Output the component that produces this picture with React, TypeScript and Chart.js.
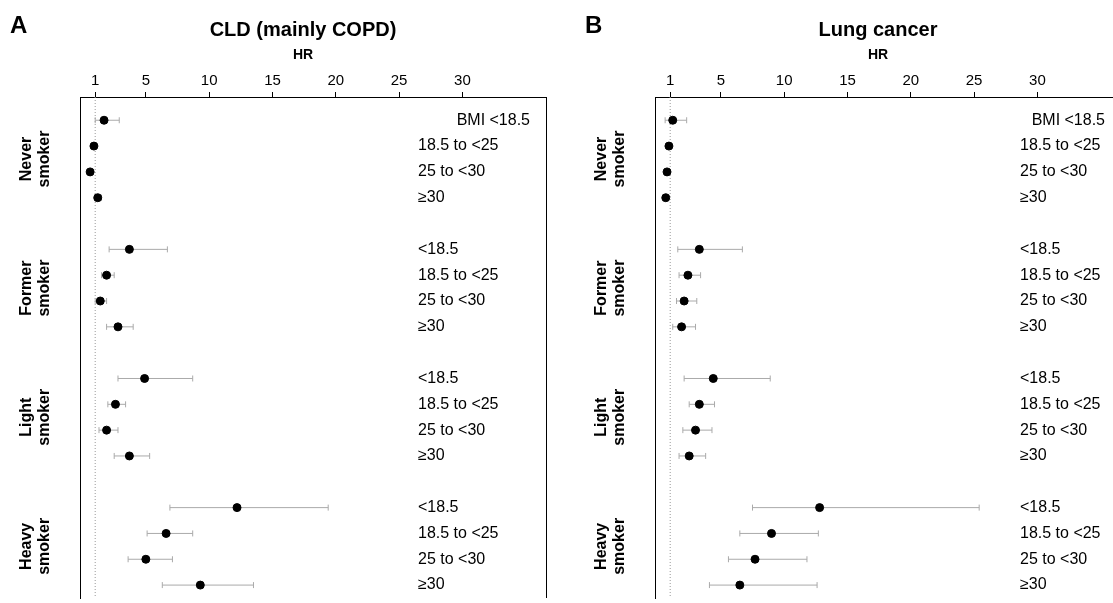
import { useEffect, useRef } from 'react';
import Chart from 'chart.js/auto';

const bmiLabels = ['BMI <18.5', '18.5 to <25', '25 to <30', '≥30'];
const groups = [['Never', 'smoker'], ['Former', 'smoker'], ['Light', 'smoker'], ['Heavy', 'smoker']];
const xTicks = [1, 5, 10, 15, 20, 25, 30];

// HR, lower CI, upper CI per row (4 groups x 4 BMI classes)
const cldHR = [1.7, 0.9, 0.6, 1.2, 3.7, 1.9, 1.4, 2.8, 4.9, 2.6, 1.9, 3.7, 12.2, 6.6, 5.0, 9.3];
const cldLo = [1.0, 0.8, 0.5, 1.0, 2.1, 1.5, 1.0, 1.9, 2.8, 2.0, 1.3, 2.5, 6.9, 5.1, 3.6, 6.3];
const cldHi = [2.9, 1.0, 0.7, 1.5, 6.7, 2.5, 1.9, 4.0, 8.7, 3.4, 2.8, 5.3, 19.4, 8.7, 7.1, 13.5];

const lungHR = [1.2, 0.9, 0.75, 0.65, 3.3, 2.4, 2.1, 1.9, 4.4, 3.3, 3.0, 2.5, 12.8, 9.0, 7.7, 6.5];
const lungLo = [0.6, 0.8, 0.7, 0.6, 1.6, 1.7, 1.5, 1.2, 2.1, 2.5, 2.0, 1.7, 7.5, 6.5, 5.6, 4.1];
const lungHi = [2.3, 1.0, 0.8, 0.7, 6.7, 3.4, 3.1, 3.0, 8.9, 4.5, 4.3, 3.8, 25.4, 12.7, 11.8, 12.6];

const rowY = (i: number) => Math.floor(i / 4) * 5 + (i % 4);
const FONT = 'Arial, "Liberation Sans", sans-serif';

type PanelProps = { letter: string; title: string; hr: number[]; lo: number[]; hi: number[]; labelX: number; firstRight: number };

const Panel = ({ letter, title, hr, lo, hi, labelX, firstRight }: PanelProps) => {
  const canvasRef = useRef<HTMLCanvasElement | null>(null);

  useEffect(() => {
    if (!canvasRef.current) return;
    const overlay = {
      id: 'overlay',
      beforeDatasetsDraw(chart: any) {
        const { ctx, chartArea: a, scales: { x, y } } = chart;
        ctx.save();
        // dotted reference line at HR = 1
        ctx.strokeStyle = '#999';
        ctx.lineWidth = 1;
        ctx.setLineDash([1, 2]);
        ctx.beginPath();
        ctx.moveTo(x.getPixelForValue(1), a.top);
        ctx.lineTo(x.getPixelForValue(1), a.bottom);
        ctx.stroke();
        ctx.setLineDash([]);
        // right border
        ctx.strokeStyle = '#000';
        ctx.beginPath();
        ctx.moveTo(a.right + 0.5, a.top);
        ctx.lineTo(a.right + 0.5, a.bottom);
        ctx.stroke();
        // error bars
        ctx.strokeStyle = '#aaa';
        hr.forEach((_, i) => {
          const py = y.getPixelForValue(rowY(i));
          const x1 = x.getPixelForValue(lo[i]);
          const x2 = x.getPixelForValue(hi[i]);
          ctx.beginPath();
          ctx.moveTo(x1, py); ctx.lineTo(x2, py);
          ctx.moveTo(x1, py - 3); ctx.lineTo(x1, py + 3);
          ctx.moveTo(x2, py - 3); ctx.lineTo(x2, py + 3);
          ctx.stroke();
        });
        // BMI labels
        ctx.fillStyle = '#000';
        ctx.font = `16px ${FONT}`;
        ctx.textBaseline = 'middle';
        hr.forEach((_, i) => {
          const py = y.getPixelForValue(rowY(i));
          if (i === 0) {
            ctx.textAlign = 'right';
            ctx.fillText(bmiLabels[0], firstRight, py);
          } else {
            ctx.textAlign = 'left';
            ctx.fillText(i % 4 === 0 ? '<18.5' : bmiLabels[i % 4], labelX, py);
          }
        });
        // group labels
        ctx.font = `bold 16px ${FONT}`;
        ctx.textAlign = 'center';
        groups.forEach((g, k) => {
          const py = y.getPixelForValue(k * 5 + 1.5);
          ctx.save();
          ctx.translate(a.left - 44, py);
          ctx.rotate(-Math.PI / 2);
          ctx.fillText(g[0], 0, -9);
          ctx.fillText(g[1], 0, 9);
          ctx.restore();
        });
        // titles
        ctx.font = `bold 24px ${FONT}`;
        ctx.textAlign = 'left';
        ctx.fillText(letter, 10, 26);
        ctx.font = `bold 20px ${FONT}`;
        ctx.textAlign = 'center';
        ctx.fillText(title, (a.left + a.right) / 2 - 10, 30);
        ctx.font = `bold 14px ${FONT}`;
        ctx.fillText('HR', (a.left + a.right) / 2 - 10, 55);
        ctx.restore();
      },
    };

    const chart = new Chart(canvasRef.current, {
      type: 'scatter',
      data: {
        datasets: [{
          data: hr.map((v, i) => ({ x: v, y: rowY(i) })),
          backgroundColor: '#000',
          borderColor: '#000',
          pointRadius: 4,
        }],
      },
      options: {
        animation: false,
        responsive: false,
        layout: { padding: { left: 72, right: 10, top: 70, bottom: 2 } },
        plugins: { legend: { display: false }, tooltip: { enabled: false } },
        scales: {
          x: {
            type: 'linear',
            position: 'top',
            min: -0.2,
            max: 36.6,
            afterBuildTicks: (s: any) => { s.ticks = xTicks.map((v) => ({ value: v })); },
            ticks: { color: '#000', font: { size: 15, family: FONT }, padding: 2 },
            grid: { drawOnChartArea: false, tickLength: 5, color: '#000' },
            border: { color: '#000' },
          },
          y: {
            type: 'linear',
            reverse: true,
            min: -0.9,
            max: 18.5,
            ticks: { display: false },
            grid: { display: false },
            border: { color: '#000' },
          },
        },
      },
      plugins: [overlay],
    });
    return () => chart.destroy();
  }, [letter, title, hr, lo, hi, labelX, firstRight]);

  return <canvas ref={canvasRef} width={556} height={603} style={{ display: 'block' }} />;
};

export default function App() {
  return (
    <div style={{ position: 'absolute', left: 0, top: 0, width: 1113, height: 603, display: 'flex', background: '#fff', overflow: 'hidden' }}>
      <div style={{ width: 575, flex: 'none' }}>
        <Panel letter="A" title="CLD (mainly COPD)" hr={cldHR} lo={cldLo} hi={cldHi} labelX={418} firstRight={530} />
      </div>
      <div style={{ width: 538, flex: 'none', overflow: 'hidden' }}>
        <Panel letter="B" title="Lung cancer" hr={lungHR} lo={lungLo} hi={lungHi} labelX={445} firstRight={530} />
      </div>
    </div>
  );
}
